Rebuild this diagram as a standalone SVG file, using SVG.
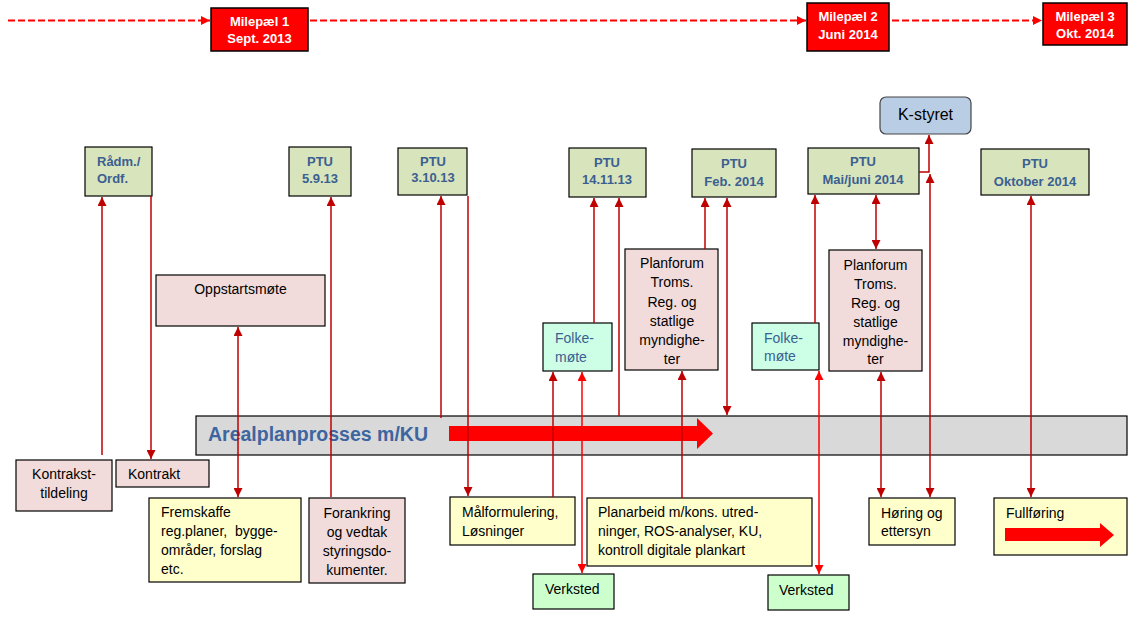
<svg xmlns="http://www.w3.org/2000/svg" width="1143" height="623" viewBox="0 0 1143 623">
<defs>
<style>
text{font-family:"Liberation Sans",Arial,sans-serif;}
.ms{fill:#ff0000;stroke:#000;stroke-width:1.5;}
.mt{fill:#fff;font-weight:bold;font-size:13px;text-anchor:middle;}
.ptu{fill:#d8e4bc;stroke:#000;stroke-width:1.2;}
.pt{fill:#3b5f91;font-weight:bold;font-size:13px;text-anchor:middle;}
.pink{fill:#f2dcdb;stroke:#000;stroke-width:1.2;}
.yel{fill:#ffffcc;stroke:#000;stroke-width:1.2;}
.grn{fill:#ccffcc;stroke:#000;stroke-width:1.2;}
.mint{fill:#ccffe6;stroke:#000;stroke-width:1.2;}
.t{fill:#000;font-size:14px;}
.c{text-anchor:middle;}
.ft{fill:#3b5f91;font-size:14px;}
.dash{stroke:#ff0000;stroke-width:2;stroke-dasharray:7,3;fill:none;}
.cn{stroke:#c00000;stroke-width:1.5;fill:none;}
.cb{stroke:#ff0000;stroke-width:1.5;fill:none;}
</style>
<marker id="ad" viewBox="0 0 10 10" refX="10" refY="5" markerWidth="9" markerHeight="9" markerUnits="userSpaceOnUse" orient="auto-start-reverse"><path d="M0,0 L10,5 L0,10 z" fill="#c00000"/></marker>
<marker id="ab" viewBox="0 0 10 10" refX="10" refY="5" markerWidth="9" markerHeight="9" markerUnits="userSpaceOnUse" orient="auto-start-reverse"><path d="M0,0 L10,5 L0,10 z" fill="#ff0000"/></marker>
<marker id="ar" viewBox="0 0 10 10" refX="10" refY="5" markerWidth="9" markerHeight="9" markerUnits="userSpaceOnUse" orient="auto"><path d="M0,0 L10,5 L0,10 z" fill="#ff0000"/></marker>
</defs>

<g id="timeline">
<line class="dash" x1="8" y1="20.5" x2="210" y2="20.5" marker-end="url(#ar)"/>
<line class="dash" x1="310" y1="20.5" x2="806" y2="20.5" marker-end="url(#ar)"/>
<line class="dash" x1="892" y1="20.5" x2="1042" y2="20.5" marker-end="url(#ar)"/>
</g>

<g id="milepael1"><rect class="ms" x="211" y="8" width="97" height="43"/><text class="mt" x="259.5" y="26">Milepæl 1</text><text class="mt" x="259.5" y="43">Sept. 2013</text></g>
<g id="milepael2"><rect class="ms" x="807" y="3" width="82" height="48"/><text class="mt" x="848" y="21">Milepæl 2</text><text class="mt" x="848" y="39">Juni 2014</text></g>
<g id="milepael3"><rect class="ms" x="1043" y="3" width="84" height="42"/><text class="mt" x="1085" y="21">Milepæl 3</text><text class="mt" x="1085" y="38">Okt. 2014</text></g>

<g id="kstyret"><rect x="880" y="97" width="91" height="37" rx="6" fill="#b9cde5" stroke="#444" stroke-width="1.2"/><text x="925.5" y="120" font-size="16" text-anchor="middle" fill="#000" font-family="Liberation Sans, Arial, sans-serif">K-styret</text></g>

<g id="radm"><rect class="ptu" x="85" y="147" width="67" height="49"/><text class="pt" x="97" y="166" style="text-anchor:start">Rådm./</text><text class="pt" x="97" y="183" style="text-anchor:start">Ordf.</text></g>
<g id="ptu1"><rect class="ptu" x="289" y="147" width="62" height="49"/><text class="pt" x="320" y="166">PTU</text><text class="pt" x="320" y="183">5.9.13</text></g>
<g id="ptu2"><rect class="ptu" x="398" y="148" width="69" height="47"/><text class="pt" x="433" y="166">PTU</text><text class="pt" x="433" y="182">3.10.13</text></g>
<g id="ptu3"><rect class="ptu" x="569" y="148" width="77" height="49"/><text class="pt" x="607" y="167">PTU</text><text class="pt" x="607" y="184">14.11.13</text></g>
<g id="ptu4"><rect class="ptu" x="692" y="149" width="84" height="48"/><text class="pt" x="734" y="168">PTU</text><text class="pt" x="734" y="186">Feb. 2014</text></g>
<g id="ptu5"><rect class="ptu" x="808" y="148" width="111" height="46"/><text class="pt" x="863" y="166">PTU</text><text class="pt" x="863" y="184">Mai/juni 2014</text></g>
<g id="ptu6"><rect class="ptu" x="981" y="149" width="108" height="46"/><text class="pt" x="1035" y="168">PTU</text><text class="pt" x="1035" y="186">Oktober 2014</text></g>

<g id="oppstart"><rect class="pink" x="156" y="275" width="169" height="51"/><text class="t c" x="240.5" y="294">Oppstartsmøte</text></g>

<g id="folke1"><rect class="mint" x="543" y="323" width="69" height="48"/><text class="ft" x="555" y="343">Folke-</text><text class="ft" x="555" y="362">møte</text></g>
<g id="planforum1"><rect class="pink" x="625" y="249" width="93" height="121"/>
<text class="t c" x="672" y="268">Planforum</text><text class="t c" x="672" y="287">Troms.</text><text class="t c" x="672" y="307">Reg. og</text><text class="t c" x="672" y="326">statlige</text><text class="t c" x="672" y="345">myndighe-</text><text class="t c" x="672" y="364">ter</text></g>
<g id="folke2"><rect class="mint" x="752" y="323" width="67" height="47"/><text class="ft" x="764" y="343">Folke-</text><text class="ft" x="764" y="361">møte</text></g>
<g id="planforum2"><rect class="pink" x="829" y="250" width="93" height="121"/>
<text class="t c" x="875.5" y="270">Planforum</text><text class="t c" x="875.5" y="289">Troms.</text><text class="t c" x="875.5" y="308">Reg. og</text><text class="t c" x="875.5" y="327">statlige</text><text class="t c" x="875.5" y="346">myndighe-</text><text class="t c" x="875.5" y="364">ter</text></g>

<g id="arealplan"><rect x="196" y="416" width="931" height="39" fill="#d9d9d9" stroke="#000" stroke-width="1.2"/>
<text x="208" y="441" font-size="19.5" font-weight="bold" fill="#3d65a0" font-family="Liberation Sans, Arial, sans-serif">Arealplanprosses m/KU</text>
<path d="M449,426 L697,426 L697,418 L713,433.5 L697,449 L697,441 L449,441 z" fill="#ff0000"/></g>

<g id="kontrakstildeling"><rect class="pink" x="16" y="460" width="96" height="51"/><text class="t c" x="64" y="479">Kontrakst-</text><text class="t c" x="64" y="498">tildeling</text></g>
<g id="kontrakt"><rect class="pink" x="116" y="460" width="93" height="27"/><text class="t" x="128" y="479">Kontrakt</text></g>
<g id="fremskaffe"><rect class="yel" x="149" y="498" width="152" height="84"/><text class="t" x="161" y="517">Fremskaffe</text><text class="t" x="161" y="536" xml:space="preserve">reg.planer,  bygge-</text><text class="t" x="161" y="555">områder, forslag</text><text class="t" x="161" y="574">etc.</text></g>
<g id="forankring"><rect class="pink" x="309" y="498" width="96" height="85"/><text class="t c" x="357" y="518">Forankring</text><text class="t c" x="357" y="537">og vedtak</text><text class="t c" x="357" y="556">styringsdo-</text><text class="t c" x="357" y="575">kumenter.</text></g>
<g id="malformulering"><rect class="yel" x="450" y="497" width="125" height="48"/><text class="t" x="462" y="517">Målformulering,</text><text class="t" x="462" y="536">Løsninger</text></g>
<g id="verksted1"><rect class="grn" x="533" y="574" width="81" height="35"/><text class="t" x="545" y="594">Verksted</text></g>
<g id="planarbeid"><rect class="yel" x="587" y="498" width="225" height="68"/><text class="t" x="598" y="517">Planarbeid m/kons. utred-</text><text class="t" x="598" y="536">ninger, ROS-analyser, KU,</text><text class="t" x="598" y="555">kontroll digitale plankart</text></g>
<g id="verksted2"><rect class="grn" x="768" y="575" width="81" height="35"/><text class="t" x="779" y="595">Verksted</text></g>
<g id="horing"><rect class="yel" x="869" y="498" width="86" height="47"/><text class="t" x="881" y="518">Høring og</text><text class="t" x="881" y="536">ettersyn</text></g>
<g id="fullforing"><rect class="yel" x="994" y="498" width="133" height="57"/><text class="t" x="1006" y="518">Fullføring</text>
<path d="M1005,528 L1100,528 L1100,523 L1114,535 L1100,547 L1100,541 L1005,541 z" fill="#ff0000"/></g>

<g id="connectors">
<line class="cn" x1="102" y1="455" x2="102" y2="197" marker-end="url(#ad)"/>
<line class="cn" x1="151" y1="196" x2="151" y2="459" marker-end="url(#ad)"/>
<line class="cn" x1="238" y1="497" x2="238" y2="327" marker-start="url(#ad)" marker-end="url(#ad)"/>
<line class="cn" x1="331" y1="497" x2="331" y2="197" marker-end="url(#ad)"/>
<line class="cn" x1="441" y1="418" x2="441" y2="196" marker-end="url(#ad)"/>
<line class="cn" x1="468" y1="196" x2="468" y2="496" marker-end="url(#ad)"/>
<line class="cn" x1="553" y1="497" x2="553" y2="372" marker-end="url(#ad)"/>
<line class="cb" x1="582" y1="573" x2="582" y2="372" marker-start="url(#ab)" marker-end="url(#ab)"/>
<line class="cn" x1="594" y1="323" x2="594" y2="198" marker-end="url(#ad)"/>
<line class="cn" x1="619" y1="416" x2="619" y2="198" marker-end="url(#ad)"/>
<line class="cn" x1="682" y1="498" x2="682" y2="371" marker-end="url(#ad)"/>
<line class="cn" x1="705" y1="249" x2="705" y2="198" marker-end="url(#ad)"/>
<line class="cn" x1="727" y1="198" x2="727" y2="415" marker-start="url(#ad)" marker-end="url(#ad)"/>
<line class="cn" x1="815" y1="323" x2="815" y2="195" marker-end="url(#ad)"/>
<line class="cb" x1="819" y1="574" x2="819" y2="371" marker-start="url(#ab)" marker-end="url(#ab)"/>
<line class="cn" x1="876" y1="195" x2="876" y2="249" marker-start="url(#ad)" marker-end="url(#ad)"/>
<line class="cn" x1="881" y1="372" x2="881" y2="497" marker-start="url(#ad)" marker-end="url(#ad)"/>
<line class="cn" x1="930" y1="497" x2="930" y2="174" marker-start="url(#ad)" marker-end="url(#ad)"/>
<polyline class="cn" points="919,172 929,172 929,135" marker-end="url(#ad)"/>
<line class="cn" x1="1031" y1="497" x2="1031" y2="196" marker-start="url(#ad)" marker-end="url(#ad)"/>
</g>
</svg>
